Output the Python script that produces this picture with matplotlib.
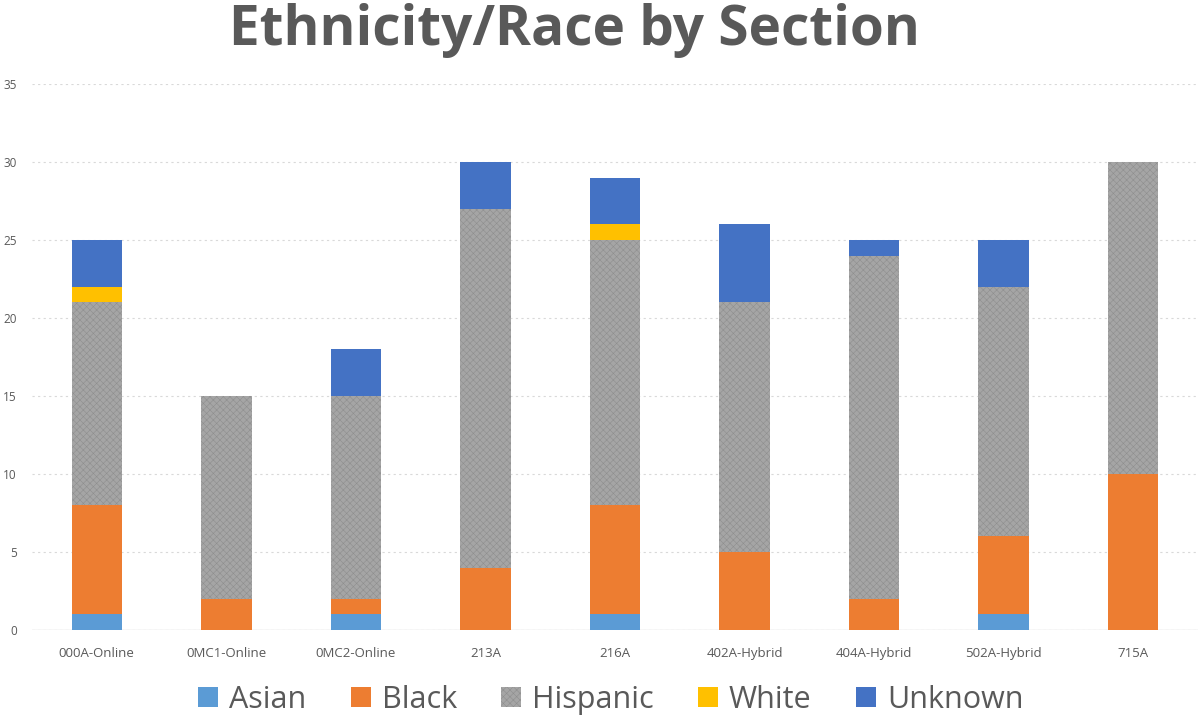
import matplotlib
matplotlib.use("Agg")
import matplotlib.pyplot as plt
import numpy as np

sections = ["000A-Online", "0MC1-Online", "0MC2-Online", "213A", "216A",
            "402A-Hybrid", "404A-Hybrid", "502A-Hybrid", "715A"]
asian    = [1, 0, 1, 0, 1, 0, 0, 1, 0]
black    = [7, 2, 1, 4, 7, 5, 2, 5, 10]
hispanic = [13, 13, 13, 23, 17, 16, 22, 16, 20]
white    = [1, 0, 0, 0, 1, 0, 0, 0, 0]
unknown  = [3, 0, 3, 3, 3, 5, 1, 3, 0]
yticks = [0, 5, 10, 15, 20, 25, 30, 35]

series = [("Asian", asian, "#5B9BD5", None),
          ("Black", black, "#ED7D31", None),
          ("Hispanic", hispanic, "#A5A5A5", "xxxxx"),
          ("White", white, "#FFC000", None),
          ("Unknown", unknown, "#4472C4", None)]

plt.rcParams['font.family'] = ['Open Sans', 'DejaVu Sans']
plt.rcParams['hatch.linewidth'] = 0.4
plt.rcParams['hatch.color'] = '#8E8E8E'

fig = plt.figure(figsize=(12, 7.19), dpi=100)
ax = fig.add_axes([32/1200, 1 - 630/719, (1198-32)/1200, 546/719])

x = np.arange(len(sections))
bottom = np.zeros(len(sections))
for name, vals, color, hatch in series:
    vals = np.array(vals, dtype=float)
    ax.bar(x, vals, width=0.39, bottom=bottom, color=color, hatch=hatch,
           edgecolor=color if hatch is None else '#8E8E8E', linewidth=0,
           label=name, zorder=2)
    bottom += vals

ax.set_xlim(-0.5, len(sections) - 0.5)
ax.set_ylim(0, 35)
ax.set_yticks(yticks)
ax.set_yticklabels([str(v) for v in yticks], fontsize=8.5, color='#595959')
ax.set_xticks(x)
ax.set_xticklabels(sections, fontsize=9.5, color='#595959')
ax.tick_params(axis='both', length=0)
ax.tick_params(axis='x', pad=12)
ax.tick_params(axis='y', pad=11)
ax.grid(axis='y', color='#D9D9D9', linestyle=(0, (2, 3)), linewidth=0.8, zorder=0)
ax.axhline(0, color='#D9D9D9', linewidth=1, zorder=1)
for s in ax.spines.values():
    s.set_visible(False)

fig.text(0.479, 1 - 45/719, "Ethnicity/Race by Section", ha='center', va='baseline',
         fontsize=39.5, fontweight='bold', color='#595959')

fig.legend(loc='center', bbox_to_anchor=(0.509, 1 - 700/719), ncol=5, frameon=False,
           fontsize=22, handlelength=0.65, handleheight=0.65, handletextpad=0.36,
           columnspacing=1.45, labelcolor='#595959')

fig.savefig("out.png", dpi=100, facecolor='white')
